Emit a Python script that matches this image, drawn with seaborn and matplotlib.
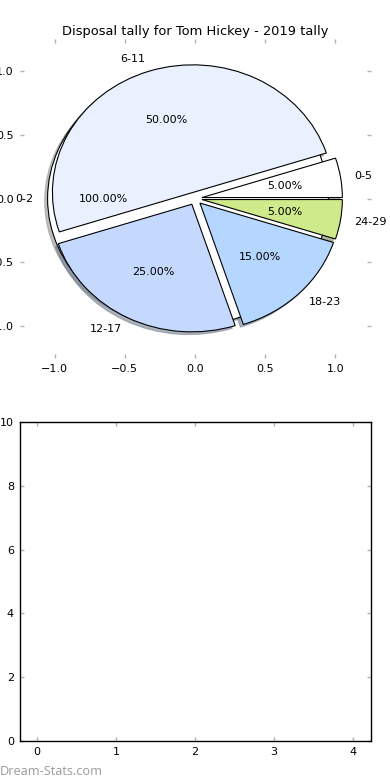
import matplotlib
matplotlib.use("Agg")
import matplotlib.pyplot as plt
import seaborn as sns

# base slice drawn first (full circle underneath)
base_labels = ["0-2"]
base_counts = [1]

# disposal buckets
labels = ["0-5", "6-11", "12-17", "18-23", "24-29"]
counts = [1, 10, 5, 3, 1]

colors = ["#ffffff", "#eaf1fe", "#c5d9fe", "#b4d6ff", "#cfea8b"]

x_ticks = [-1.0, -0.5, 0.0, 0.5, 1.0]
empty_xticks = [0, 1, 2, 3, 4]
empty_yticks = [0, 2, 4, 6, 8, 10]

sns.set_style("white")
plt.rcParams["font.family"] = ["DejaVu Sans"]
plt.rcParams["font.size"] = 8
plt.rcParams["text.color"] = "black"
plt.rcParams["axes.labelcolor"] = "black"

fig, (ax1, ax2) = plt.subplots(2, 1, figsize=(3.9, 7.8), dpi=100)
fig.subplots_adjust(left=0.05, right=0.95, bottom=0.05, top=0.95, hspace=0.2)

wedge_style = {"edgecolor": "black", "linewidth": 0.8}
shadow_style = {"ox": -0.015, "oy": -0.015, "shade": 0.45, "alpha": 0.55}

ax1.pie(
    base_counts,
    labels=base_labels,
    colors=["white"],
    explode=[0.05],
    autopct="%.2f%%",
    shadow=shadow_style,
    wedgeprops=wedge_style,
    textprops={"fontsize": 8, "color": "black"},
)
ax1.pie(
    counts,
    labels=labels,
    colors=colors,
    explode=[0.05] * len(counts),
    autopct="%.2f%%",
    shadow=shadow_style,
    wedgeprops=wedge_style,
    textprops={"fontsize": 8, "color": "black"},
)
ax1.set_aspect("auto")
ax1.set_xlim(-1.25, 1.25)
ax1.set_ylim(-1.25, 1.25)
ax1.set_xticks(x_ticks)
ax1.set_yticks(x_ticks)
ax1.set_frame_on(False)
ax1.tick_params(
    direction="in", length=3, width=1, color="#b0b0b0", labelcolor="black",
    top=True, right=True, bottom=True, left=True, labelsize=8, pad=4,
)
ax1.set_title("Disposal tally for Tom Hickey - 2019 tally", fontsize=9.4,
              pad=3, color="black")

ax2.set_xlim(-0.22, 4.22)
ax2.set_ylim(0, 10)
ax2.set_xticks(empty_xticks)
ax2.set_yticks(empty_yticks)
for sp in ax2.spines.values():
    sp.set_color("black")
    sp.set_linewidth(1)
ax2.tick_params(
    direction="in", length=3, width=1, color="#b0b0b0", labelcolor="black",
    top=True, right=True, bottom=True, left=True, labelsize=8, pad=4,
)

fig.text(0.0, 0.002, "Dream-Stats.com", color="#9a9a9a", fontsize=9.2,
         family=["Open Sans", "DejaVu Sans"], ha="left", va="bottom")

fig.savefig("out.png", dpi=100)
